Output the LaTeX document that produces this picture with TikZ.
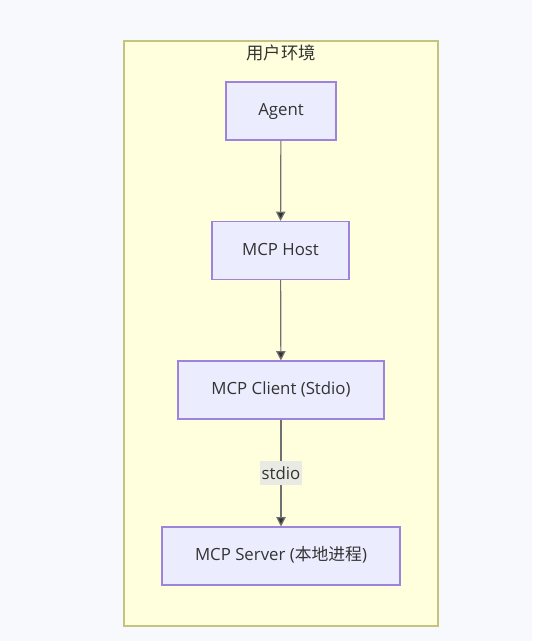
\documentclass[tikz,border=0pt]{standalone}
\usepackage{fontspec}
\setmainfont{Open Sans}
\newfontfamily\cjk{Noto Sans CJK SC}
\usetikzlibrary{arrows.meta}
\definecolor{bgcol}{HTML}{F8F9FC}
\definecolor{clusterfill}{HTML}{FFFFDE}
\definecolor{clusterline}{HTML}{C4C47E}
\definecolor{boxfill}{HTML}{ECECFF}
\definecolor{boxline}{HTML}{9E83DC}
\definecolor{edgecol}{HTML}{333333}
\definecolor{labelfill}{HTML}{EAEAE4}
\tikzset{
  proc/.style={draw=boxline, fill=boxfill, line width=0.8pt, inner sep=0pt,
    text height=0.71em, text depth=0pt,
    minimum height=43.5pt, font=\fontsize{12.6}{15}\selectfont, text=edgecol},
  flow/.style={draw=edgecol!70, line width=0.9pt, -{Triangle[width=7pt,length=7pt,fill=edgecol]}},
  edgelabel/.style={fill=labelfill, inner xsep=1.5pt, inner ysep=4pt, font=\fontsize{12.6}{15}\selectfont, text=edgecol}
}
\begin{document}
\begin{tikzpicture}[x=0.75pt, y=-0.75pt]

\fill[bgcol](0,0) rectangle (532,641);
\useasboundingbox (0,0) rectangle (532,641);

\draw[clusterline, fill=clusterfill, line width=1pt](124,41) rectangle (438,626);
\node[font=\fontsize{13}{15}\selectfont\cjk, text=edgecol] (env) at (281,53){用户环境};

\node[proc, minimum width=82.5pt] (agent) at (281,111){Agent};
\node[proc, minimum width=102.75pt] (host) at (280.5,250.5){MCP Host};
\node[proc, minimum width=154.5pt] (client) at (281,390){MCP Client (Stdio)};
\node[proc, minimum width=178.5pt] (server) at (281,556){MCP Server ({\cjk 本地进程})};

\draw[flow](agent)--(host);
\draw[flow](host)--(client);
\draw[flow](client)--(server) node[pos=0.5, edgelabel] (lbl){stdio};

\end{tikzpicture}
\end{document}
